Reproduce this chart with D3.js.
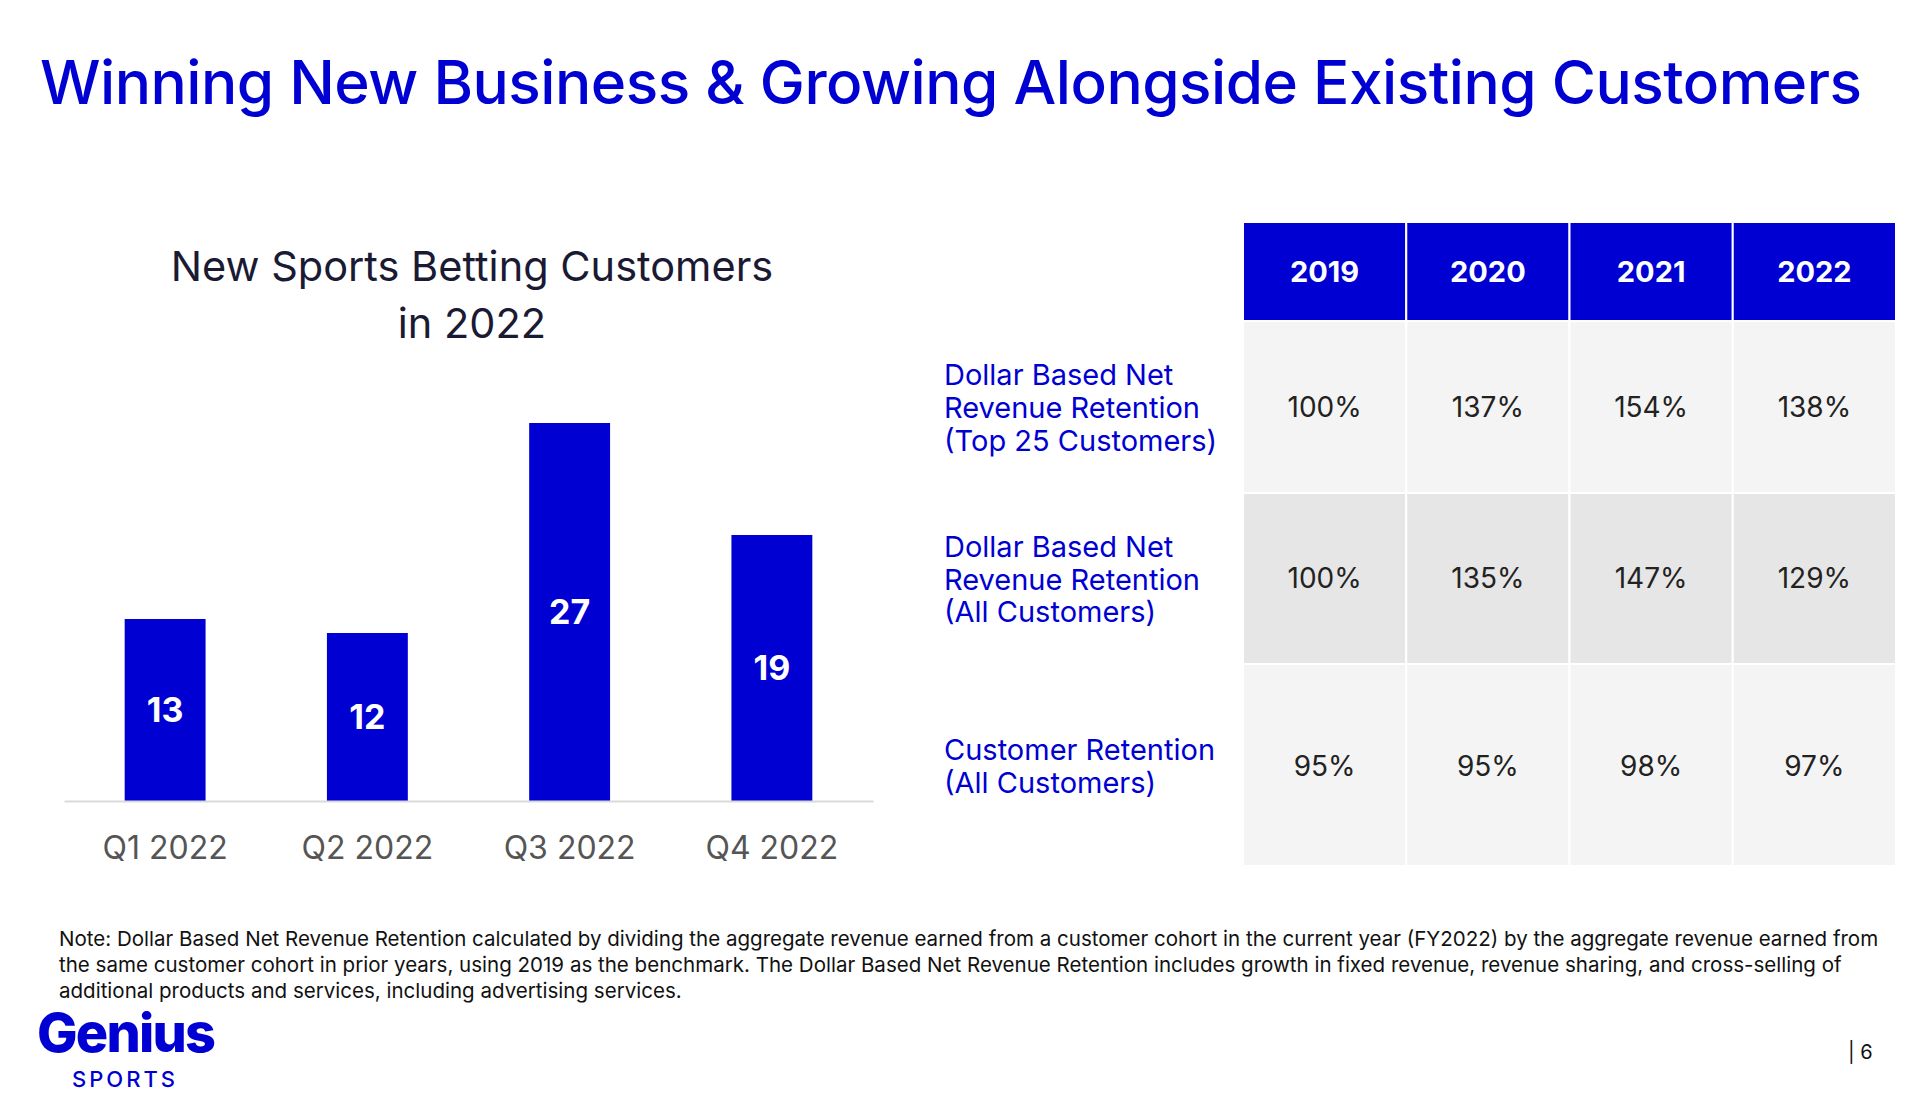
<!DOCTYPE html>
<html><head><meta charset="utf-8">
<script src="https://cdn.jsdelivr.net/npm/d3@7"></script>
<style>
html,body{margin:0;padding:0;background:#fff;}
svg{display:block;font-family:"Inter","Lato",sans-serif;}
</style></head>
<body>
<svg id="c" width="1927" height="1100"></svg>
<script>
// ---- data ----
const quarters = ["Q1 2022","Q2 2022","Q3 2022","Q4 2022"];
const newCustomers = [13, 12, 27, 19];
const years = ["2019","2020","2021","2022"];
const rowLabels = [
  ["Dollar Based Net","Revenue Retention","(Top 25 Customers)"],
  ["Dollar Based Net","Revenue Retention","(All Customers)"],
  ["Customer Retention","(All Customers)"]
];
const top25Retention = ["100%","137%","154%","138%"];
const allRetention = ["100%","135%","147%","129%"];
const customerRetention = ["95%","95%","98%","97%"];
const noteLines = [
  "Note: Dollar Based Net Revenue Retention calculated by dividing the aggregate revenue earned from a customer cohort in the current year (FY2022) by the aggregate revenue earned from",
  "the same customer cohort in prior years, using 2019 as the benchmark. The Dollar Based Net Revenue Retention includes growth in fixed revenue, revenue sharing, and cross-selling of",
  "additional products and services, including advertising services."
];

const BLUE = "#0000d2";
const svg = d3.select("#c");

function fitSize(sel, w){
  const l = sel.node().getComputedTextLength();
  return parseFloat(sel.attr("font-size")) * w / l;
}

// title
const t = svg.append("text").attr("x", 40).attr("y", 104).attr("font-size", 60)
  .attr("font-weight", 500).attr("fill", BLUE).attr("letter-spacing", -0.5)
  .text("Winning New Business & Growing Alongside Existing Customers");
t.attr("font-size", fitSize(t, 1822));

// bar chart
const x = d3.scaleBand().domain(quarters).range([64, 873]).paddingInner(0.6).paddingOuter(0.3);
const y = d3.scaleLinear().domain([0, 30]).range([801, 381]);
const g = svg.append("g");
g.selectAll("rect").data(newCustomers).join("rect")
  .attr("x", (d,i)=>x(quarters[i])).attr("width", x.bandwidth())
  .attr("y", d=>y(d)).attr("height", d=>y(0)-y(d)).attr("fill", BLUE);
g.selectAll("text.v").data(newCustomers).join("text").attr("class","v")
  .attr("x", (d,i)=>x(quarters[i])+x.bandwidth()/2)
  .attr("y", d=>(y(d)+y(0))/2).attr("dy","0.35em").attr("text-anchor","middle")
  .attr("fill","#fff").attr("font-weight",700).attr("font-size",34).text(d=>d);
const ax = g.append("g").attr("transform","translate(0,801)")
  .call(d3.axisBottom(x).tickSize(0).tickPadding(36));
ax.select(".domain").attr("stroke","#d9d9d9").attr("stroke-width",2);
ax.selectAll("text").attr("font-size",32).attr("fill","#555").attr("font-family","Inter,Lato,sans-serif").attr("dy","0.7em");

svg.append("text").attr("x",472).attr("y",281).attr("text-anchor","middle")
  .attr("font-size",41.5).attr("fill","#1a1a33").text("New Sports Betting Customers");
svg.append("text").attr("x",472).attr("y",338).attr("text-anchor","middle")
  .attr("font-size",41.5).attr("fill","#1a1a33").text("in 2022");

// table
const rows = [top25Retention, allRetention, customerRetention];
const cx = d3.scaleBand().domain(years).range([1243, 1896]);
const rowTop = [321, 493, 664];
const rowH = [172, 171, 202];
const rowFill = ["#f4f4f4","#e6e6e6","#f4f4f4"];
const tg = svg.append("g");
tg.selectAll("rect.h").data(years).join("rect").attr("class","h")
  .attr("x", d=>cx(d)).attr("y",222).attr("width",cx.bandwidth()).attr("height",99)
  .attr("fill",BLUE).attr("stroke","#fff").attr("stroke-width",2);
tg.selectAll("text.h").data(years).join("text").attr("class","h")
  .attr("x", d=>cx(d)+cx.bandwidth()/2).attr("y",272).attr("dy","0.35em")
  .attr("text-anchor","middle").attr("fill","#fff").attr("font-weight",700)
  .attr("font-size",29).text(d=>d);
rows.forEach((vals, r)=>{
  tg.selectAll("rect.r"+r).data(vals).join("rect").attr("class","r"+r)
    .attr("x",(d,i)=>cx(years[i])).attr("y",rowTop[r]).attr("width",cx.bandwidth()).attr("height",rowH[r])
    .attr("fill",rowFill[r]).attr("stroke","#fff").attr("stroke-width",2);
  tg.selectAll("text.r"+r).data(vals).join("text").attr("class","r"+r)
    .attr("x",(d,i)=>cx(years[i])+cx.bandwidth()/2)
    .attr("y", r===2 ? 766 : rowTop[r]+rowH[r]/2).attr("dy","0.35em")
    .attr("text-anchor","middle").attr("fill","#222").attr("font-size",28).text(d=>d);
});
const labelY = [[375,408,441],[547,580,612],[750,783]];
rowLabels.forEach((lines, r)=>{
  lines.forEach((s, k)=>{
    svg.append("text").attr("x",944).attr("y",labelY[r][k]).attr("dy","0.35em")
      .attr("font-size",29).attr("fill",BLUE).text(s);
  });
});

// note
let noteFs = 20;
noteLines.forEach((s,k)=>{
  const n = svg.append("text").attr("x",59).attr("y",946+k*26).attr("font-size",noteFs).attr("fill","#111").text(s);
  if (k===0) { noteFs = fitSize(n, 1820); }
  n.attr("font-size", noteFs);
});
// logo
svg.append("text").attr("x",37).attr("y",1052).attr("font-size",54).attr("font-weight",800)
  .attr("fill",BLUE).attr("letter-spacing",-1.8).text("Genius");
svg.append("text").attr("x",72).attr("y",1087).attr("font-size",22).attr("font-weight",500)
  .attr("fill",BLUE).attr("letter-spacing",3).text("SPORTS");
svg.append("text").attr("x",1848).attr("y",1059).attr("font-size",20).attr("fill","#111").text("| 6");
</script>
</body></html>
